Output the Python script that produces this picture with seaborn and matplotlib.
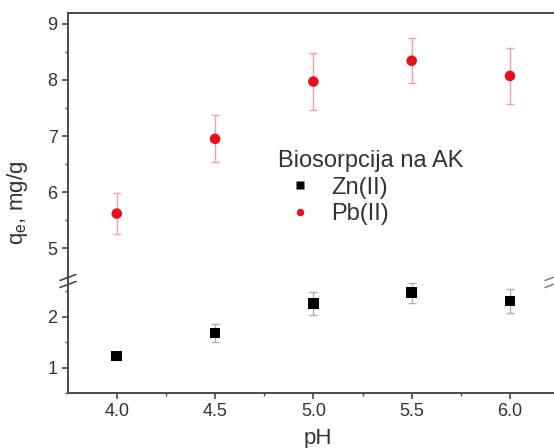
"""pH dependence of Zn(II) and Pb(II) biosorption on AK, with a broken y axis."""

import matplotlib.pyplot as plt
import numpy as np
import pandas as pd
import seaborn as sns
from matplotlib.ticker import FormatStrFormatter, MultipleLocator

ph = [4.0, 4.5, 5.0, 5.5, 6.0]
zn_qe = [1.23, 1.68, 2.26, 2.47, 2.31]
zn_err = [0.08, 0.17, 0.23, 0.20, 0.23]
pb_qe = [5.62, 6.95, 7.97, 8.34, 8.07]
pb_err = [0.37, 0.42, 0.50, 0.40, 0.50]

series_names = ["Zn(II)", "Pb(II)"]
legend_title = "Biosorpcija na AK"
x_label = "pH"
y_label = "q$_e$, mg/g"

df = pd.DataFrame(
    {
        "pH": ph * 2,
        "qe": zn_qe + pb_qe,
        "err": zn_err + pb_err,
        "ion": [series_names[0]] * len(ph) + [series_names[1]] * len(ph),
    }
)

sns.set_theme(style="ticks")
plt.rcParams["font.family"] = ["Liberation Sans", "DejaVu Sans"]
plt.rcParams["mathtext.fontset"] = "custom"
plt.rcParams["mathtext.rm"] = "Liberation Sans"
plt.rcParams["mathtext.it"] = "Liberation Sans"

W, H = 554, 448
fig = plt.figure(figsize=(W / 100, H / 100), dpi=100)
left, right = 68 / W, 556 / W
y_top, y_break, y_bot = 1 - 13 / H, 1 - 281 / H, 1 - 393 / H
ax_hi = fig.add_axes([left, y_break, right - left, y_top - y_break])
ax_lo = fig.add_axes([left, y_bot, right - left, y_break - y_bot], sharex=ax_hi)

palette = {"Zn(II)": "black", "Pb(II)": "#e8101a"}
markers = {"Zn(II)": "s", "Pb(II)": "o"}
err_colors = {"Zn(II)": "#b0b0b0", "Pb(II)": "#f4a0a6"}

for ax in (ax_hi, ax_lo):
    for name in series_names:
        sub = df[df["ion"] == name]
        ax.errorbar(sub["pH"], sub["qe"], yerr=sub["err"], fmt="none",
                    ecolor=err_colors[name], elinewidth=1, capsize=3, capthick=1, zorder=1)
    sns.scatterplot(data=df, x="pH", y="qe", hue="ion", style="ion",
                    palette=palette, markers=markers, s=58, edgecolor="none",
                    legend=(ax is ax_hi), ax=ax, zorder=3)

ax_hi.set_ylim(4.42, 9.19)
ax_lo.set_ylim(0.5, 2.70)
ax_hi.set_xlim(3.752, 6.234)

spine_col = "#4a4a4a"
for ax in (ax_hi, ax_lo):
    ax.set_xlabel("")
    ax.set_ylabel("")
    for s in ax.spines.values():
        s.set_color(spine_col)
        s.set_linewidth(1.4)
    ax.spines["right"].set_visible(False)
    ax.tick_params(which="both", direction="out", colors=spine_col,
                   labelcolor="#333333", labelsize=13)
    ax.tick_params(which="major", length=4, width=1.2)
    ax.tick_params(which="minor", length=2.5, width=1.0)
    ax.yaxis.set_major_locator(MultipleLocator(1))
    ax.yaxis.set_minor_locator(MultipleLocator(0.5))

ax_hi.spines["bottom"].set_visible(False)
ax_hi.tick_params(axis="x", which="both", bottom=False, labelbottom=False)
ax_lo.spines["top"].set_visible(False)
ax_lo.xaxis.set_major_locator(MultipleLocator(0.5))
ax_lo.xaxis.set_minor_locator(MultipleLocator(0.25))
ax_lo.xaxis.set_major_formatter(FormatStrFormatter("%.1f"))

# break marks on the y axis
for xc, col in ((68, spine_col), (553, "#888888")):
    for dy in (-3.5, 3.5):
        yc = 281 + dy
        fig.add_artist(plt.Line2D([(xc - 8) / W, (xc + 8) / W],
                                  [1 - (yc + 3) / H, 1 - (yc - 3) / H],
                                  color=col, lw=1.2))

fig.text(318 / W, 1 - 438 / H, x_label, ha="center", va="center",
         fontsize=16, color="#333333")
fig.text(18 / W, 1 - 203 / H, y_label, ha="center", va="center",
         rotation=90, fontsize=16, color="#333333")

handles, labels = ax_hi.get_legend_handles_labels()
ax_hi.get_legend().remove()
leg = ax_hi.legend(handles, labels, title=legend_title, frameon=False,
                   loc="upper left", bbox_to_anchor=(266 / W, 1 - 138 / H),
                   bbox_transform=fig.transFigure, fontsize=17, title_fontsize=17,
                   alignment="left", borderpad=0, handlelength=1.85,
                   handletextpad=0.42, labelspacing=0.2, markerscale=0.7)
leg.get_title().set_color("#333333")
for t in leg.get_texts():
    t.set_color("#333333")

fig.savefig("out.png", dpi=100)
